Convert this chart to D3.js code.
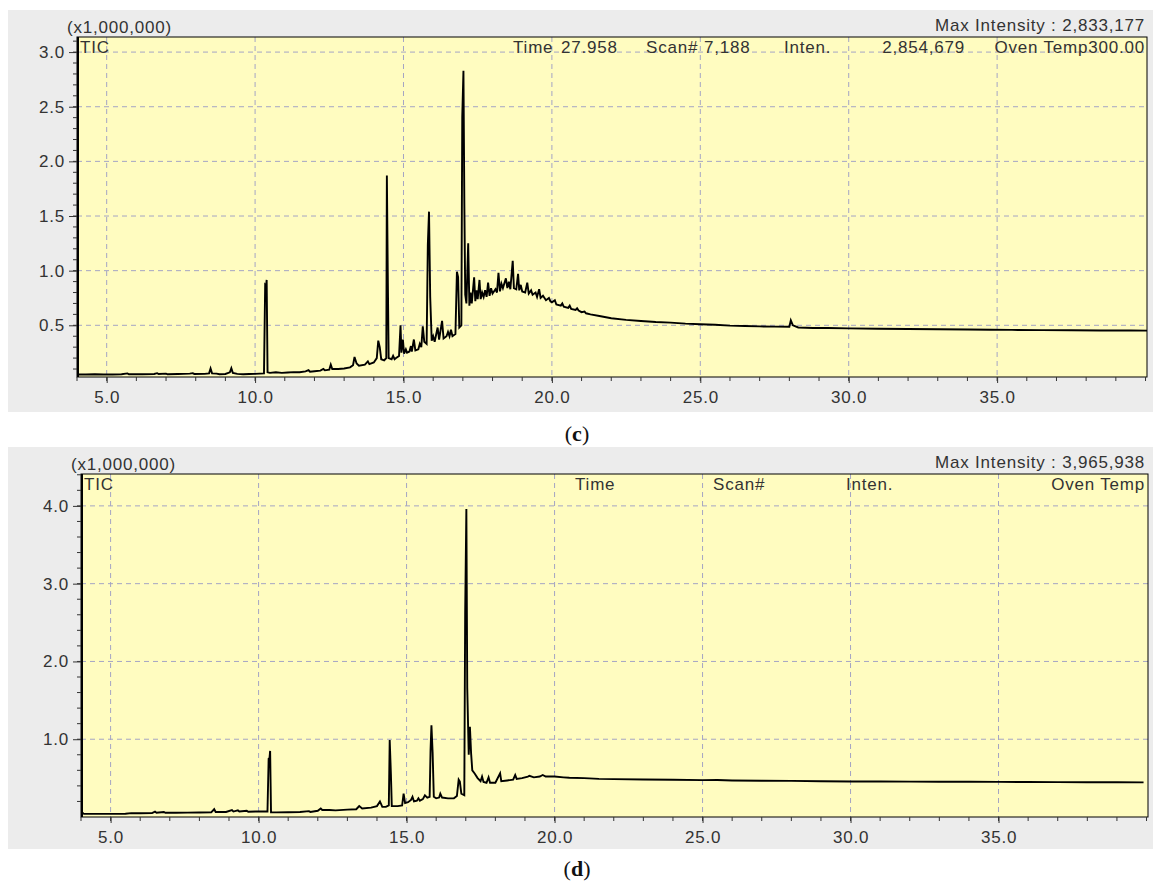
<!DOCTYPE html>
<html>
<head>
<meta charset="utf-8">
<script src="https://cdn.jsdelivr.net/npm/d3@7"></script>
<style>
  body { margin: 0; background: #ffffff; }
  svg text { font-family: 'Liberation Sans', Arial, sans-serif; fill: #333333; letter-spacing: 0.8px; }
  .caption text { font-family: 'Liberation Serif', 'Times New Roman', serif; fill: #111; letter-spacing: 0; }
</style>
</head>
<body>
<svg id="chart" width="1153" height="882"></svg>
<script>
// --- data (retention time in min, intensity x1,000,000) ---
const xTicks = [5.0, 10.0, 15.0, 20.0, 25.0, 30.0, 35.0];
const yTicksC = [0.5, 1.0, 1.5, 2.0, 2.5, 3.0];
const yTicksD = [1.0, 2.0, 3.0, 4.0];

const ticC = [
  [4.00,0.06],[4.05,0.05],[4.3,0.05],[4.6,0.052],[4.9,0.05],[5.2,0.05],[5.5,0.052],[5.7,0.06],[5.75,0.052],
  [6.2,0.052],[6.6,0.055],[6.7,0.062],[6.75,0.054],[7.0,0.058],[7.05,0.052],[7.4,0.055],[7.8,0.058],[7.9,0.062],
  [7.95,0.055],[8.3,0.056],[8.45,0.06],[8.5,0.105],[8.55,0.06],[8.7,0.058],[8.8,0.052],[9.0,0.055],[9.15,0.07],
  [9.2,0.108],[9.25,0.065],[9.4,0.056],[9.6,0.052],[9.8,0.055],[10.0,0.056],[10.3,0.06],[10.34,0.87],[10.37,0.86],
  [10.39,0.915],[10.42,0.07],[10.5,0.065],[10.7,0.07],[10.9,0.065],[11.1,0.068],[11.3,0.072],[11.5,0.07],[11.7,0.078],
  [11.8,0.09],[11.85,0.075],[12.0,0.08],[12.2,0.085],[12.3,0.1],[12.35,0.088],[12.5,0.095],[12.55,0.14],[12.6,0.1],
  [12.8,0.1],[13.0,0.105],[13.2,0.115],[13.3,0.135],[13.35,0.21],[13.42,0.15],[13.5,0.13],[13.7,0.14],[13.8,0.17],
  [13.85,0.145],[14.0,0.16],[14.1,0.2],[14.15,0.36],[14.2,0.3],[14.25,0.19],[14.35,0.18],[14.42,0.2],[14.44,1.87],
  [14.47,0.98],[14.5,0.2],[14.6,0.19],[14.65,0.22],[14.7,0.19],[14.75,0.2],[14.85,0.22],[14.9,0.5],[14.93,0.25],
  [14.98,0.37],[15.02,0.24],[15.08,0.28],[15.12,0.25],[15.2,0.26],[15.25,0.31],[15.28,0.26],[15.35,0.37],[15.4,0.27],
  [15.5,0.28],[15.55,0.33],[15.6,0.3],[15.65,0.49],[15.7,0.35],[15.78,0.33],[15.82,1.24],[15.86,1.54],[15.9,0.76],
  [15.95,0.36],[16.0,0.4],[16.05,0.35],[16.15,0.48],[16.2,0.37],[16.3,0.54],[16.35,0.38],[16.45,0.4],[16.5,0.44],
  [16.55,0.4],[16.6,0.46],[16.65,0.4],[16.75,0.42],[16.8,0.99],[16.84,0.94],[16.88,0.48],[16.95,0.5],[16.98,2.41],
  [17.02,2.83],[17.05,1.62],[17.08,0.78],[17.12,0.7],[17.18,1.25],[17.22,0.68],[17.26,0.8],[17.3,0.7],[17.38,0.94],
  [17.42,0.72],[17.46,0.82],[17.5,0.74],[17.56,0.915],[17.6,0.74],[17.65,0.8],[17.7,0.76],[17.75,0.82],[17.8,0.76],
  [17.85,0.89],[17.9,0.77],[17.95,0.84],[18.0,0.79],[18.1,0.83],[18.15,0.8],[18.2,0.98],[18.25,0.81],[18.3,0.88],
  [18.35,0.84],[18.45,0.93],[18.5,0.84],[18.55,0.9],[18.6,0.83],[18.68,1.09],[18.72,0.84],[18.8,0.83],[18.86,0.97],
  [18.9,0.82],[18.95,0.87],[19.0,0.81],[19.1,0.8],[19.17,0.89],[19.22,0.79],[19.3,0.82],[19.35,0.78],[19.45,0.8],
  [19.5,0.76],[19.57,0.83],[19.62,0.75],[19.7,0.77],[19.8,0.73],[19.9,0.75],[19.95,0.72],[20.0,0.71],[20.1,0.73],
  [20.15,0.69],[20.3,0.68],[20.35,0.7],[20.4,0.67],[20.55,0.66],[20.6,0.68],[20.65,0.65],[20.8,0.64],[20.85,0.655],
  [20.9,0.635],[21.0,0.62],[21.1,0.625],[21.15,0.61],[21.3,0.6],[21.6,0.585],[22.0,0.565],[22.5,0.55],[23.0,0.54],
  [23.5,0.53],[24.0,0.525],[24.5,0.515],[25.0,0.51],[25.5,0.505],[26.0,0.497],[26.5,0.493],[27.0,0.49],[27.5,0.488],
  [28.0,0.487],[28.05,0.545],[28.12,0.5],[28.3,0.48],[28.8,0.476],[29.3,0.475],[30.0,0.472],[31.0,0.468],[32.0,0.466],
  [33.0,0.464],[34.0,0.462],[34.8,0.46],[35.5,0.458],[36.5,0.456],[37.5,0.455],[38.5,0.453],[39.5,0.452],[40.1,0.451]
];

const ticD = [
  [4.0,0.12],[4.03,0.06],[4.1,0.04],[4.5,0.04],[5.0,0.04],[5.5,0.042],[5.7,0.05],[6.0,0.048],[6.4,0.05],[6.5,0.07],
  [6.55,0.055],[6.8,0.065],[6.85,0.055],[7.2,0.055],[7.6,0.056],[8.0,0.058],[8.4,0.06],[8.5,0.1],[8.55,0.065],
  [8.9,0.065],[9.1,0.09],[9.15,0.07],[9.3,0.085],[9.35,0.07],[9.6,0.08],[9.65,0.068],[9.9,0.07],[10.3,0.07],
  [10.34,0.75],[10.37,0.76],[10.39,0.85],[10.42,0.06],[10.6,0.06],[11.0,0.062],[11.4,0.065],[11.7,0.075],[11.75,0.065],
  [12.0,0.08],[12.1,0.11],[12.15,0.09],[12.4,0.09],[12.6,0.085],[13.0,0.095],[13.3,0.1],[13.4,0.14],[13.5,0.11],
  [13.8,0.12],[14.0,0.14],[14.1,0.2],[14.18,0.13],[14.3,0.13],[14.4,0.15],[14.43,0.99],[14.47,0.56],[14.5,0.14],
  [14.7,0.14],[14.85,0.15],[14.9,0.3],[14.95,0.18],[15.05,0.19],[15.15,0.22],[15.2,0.26],[15.25,0.2],[15.35,0.21],
  [15.4,0.24],[15.45,0.21],[15.55,0.23],[15.62,0.28],[15.7,0.25],[15.78,0.26],[15.81,0.86],[15.84,1.18],[15.88,0.83],
  [15.92,0.26],[16.0,0.24],[16.1,0.25],[16.14,0.3],[16.2,0.25],[16.4,0.24],[16.6,0.24],[16.7,0.27],[16.76,0.48],
  [16.8,0.455],[16.85,0.3],[16.95,0.28],[16.98,2.63],[17.02,3.96],[17.05,1.66],[17.1,0.8],[17.14,1.16],[17.18,0.82],
  [17.22,0.6],[17.3,0.56],[17.4,0.5],[17.5,0.46],[17.55,0.52],[17.6,0.45],[17.7,0.44],[17.77,0.51],[17.82,0.44],
  [18.0,0.44],[18.16,0.56],[18.2,0.46],[18.4,0.47],[18.6,0.48],[18.67,0.54],[18.72,0.49],[18.9,0.5],[19.1,0.52],
  [19.15,0.53],[19.3,0.51],[19.5,0.52],[19.6,0.54],[19.7,0.52],[20.0,0.52],[20.3,0.51],[20.5,0.505],[21.0,0.5],
  [21.5,0.49],[22.0,0.487],[23.0,0.482],[24.0,0.478],[25.0,0.474],[25.5,0.475],[26.0,0.47],[27.0,0.467],[28.0,0.464],
  [29.0,0.46],[30.0,0.457],[31.0,0.456],[32.0,0.455],[33.0,0.454],[34.0,0.453],[35.0,0.452],[36.0,0.45],[37.0,0.449],
  [38.0,0.447],[39.0,0.446],[39.9,0.445]
];

const headerC = ["Time", "27.958", "Scan#", "7,188", "Inten.", "2,854,679", "Oven Temp300.00"];
const headerD = ["Time", "Scan#", "Inten.", "Oven Temp"];

const svg = d3.select("#chart");

// 1 panel = gray frame + yellow plot + axes + TIC trace
function drawPanel(p) {
  const g = svg.append("g");

  g.append("rect")
    .attr("x", 8).attr("y", p.panelTop)
    .attr("width", 1145).attr("height", p.panelBottom - p.panelTop)
    .attr("fill", "#ececec");

  const x = d3.scaleLinear().domain([4.0, 40.05]).range([p.left, p.right]);
  const y = d3.scaleLinear().domain(p.yDomain).range([p.bottom, p.top]);

  g.append("rect")
    .attr("x", p.left).attr("y", p.top)
    .attr("width", p.right - p.left).attr("height", p.bottom - p.top)
    .attr("fill", "#fffcc0");

  // グリッド
  g.selectAll(".vgrid").data(xTicks).enter().append("line")
    .attr("x1", d => x(d)).attr("x2", d => x(d))
    .attr("y1", p.top).attr("y2", p.bottom)
    .attr("stroke", "#a4a4c4").attr("stroke-dasharray", "5,4");
  g.selectAll(".hgrid").data(p.yTicks).enter().append("line")
    .attr("x1", p.left).attr("x2", p.right)
    .attr("y1", d => y(d)).attr("y2", d => y(d))
    .attr("stroke", "#a4a4c4").attr("stroke-dasharray", "5,4");

  // trace
  const clipId = "clip-" + p.name;
  g.append("clipPath").attr("id", clipId).append("rect")
    .attr("x", p.left).attr("y", p.top)
    .attr("width", p.right - p.left).attr("height", p.bottom - p.top);

  const line = d3.line().x(d => x(d[0])).y(d => y(d[1]));
  g.append("path")
    .datum(p.data)
    .attr("clip-path", `url(#${clipId})`)
    .attr("fill", "none")
    .attr("stroke", "#000")
    .attr("stroke-width", 1.9)
    .attr("stroke-linejoin", "miter")
    .attr("d", line);

  // frame
  g.append("rect")
    .attr("x", p.left).attr("y", p.top)
    .attr("width", p.right - p.left).attr("height", p.bottom - p.top)
    .attr("fill", "none").attr("stroke", "#000").attr("stroke-width", 1);
  g.append("line")
    .attr("x1", p.left + 1).attr("x2", p.left + 1)
    .attr("y1", p.top).attr("y2", p.bottom)
    .attr("stroke", "#000").attr("stroke-width", 2);

  // X軸
  const xAxis = g.append("g")
    .attr("transform", `translate(0,${p.bottom})`)
    .call(d3.axisBottom(x).tickValues(xTicks).tickFormat(d3.format(".1f")).tickSize(6).tickPadding(8));
  xAxis.select(".domain").remove();
  xAxis.attr("font-size", 17).attr("font-family", null);
  xAxis.selectAll("line").attr("stroke", "#333");

  g.selectAll(".xminor").data(d3.range(4, 41, 1)).enter().append("line")
    .attr("x1", d => x(d)).attr("x2", d => x(d))
    .attr("y1", p.bottom).attr("y2", p.bottom + 4)
    .attr("stroke", "#333");

  // Y軸
  const yAxis = g.append("g")
    .attr("transform", `translate(${p.left},0)`)
    .call(d3.axisLeft(y).tickValues(p.yTicks).tickFormat(d3.format(".1f")).tickSize(8).tickPadding(4));
  yAxis.select(".domain").remove();
  yAxis.attr("font-size", 17).attr("font-family", null);
  yAxis.selectAll("line").attr("stroke", "#333");

  g.selectAll(".yminor").data(p.yMinor).enter().append("line")
    .attr("x1", p.left - 4).attr("x2", p.left)
    .attr("y1", d => y(d)).attr("y2", d => y(d))
    .attr("stroke", "#333");

  // labels
  g.append("text").attr("x", p.left - 10).attr("y", p.top - 4)
    .attr("font-size", 17).text("(x1,000,000)");
  g.append("text").attr("x", 1145).attr("y", p.top - 6)
    .attr("font-size", 17).attr("text-anchor", "end").text(p.maxLabel);
  g.append("text").attr("x", p.left + 3).attr("y", p.top + 16)
    .attr("font-size", 17).text("TIC");

  p.header.forEach((t, i) => {
    const pos = p.headerPos[i];
    g.append("text").attr("x", pos[0]).attr("y", p.top + 16)
      .attr("font-size", 17).attr("text-anchor", pos[1]).text(t);
  });
}

function drawCaption(name, cy) {
  const cap = svg.append("g").attr("class", "caption");
  const ct = cap.append("text").attr("x", 577).attr("y", cy)
    .attr("font-size", 22).attr("text-anchor", "middle");
  ct.append("tspan").text("(");
  ct.append("tspan").attr("font-weight", "bold").text(name);
  ct.append("tspan").text(")");
}

drawPanel({
  name: "c", data: ticC,
  panelTop: 10, panelBottom: 412,
  left: 77, right: 1147, top: 37, bottom: 377,
  yDomain: [0.027, 3.138], yTicks: yTicksC,
  yMinor: d3.range(0.1, 3.15, 0.1),
  maxLabel: "Max Intensity : 2,833,177",
  header: headerC,
  headerPos: [[513,"start"],[561,"start"],[646,"start"],[704,"start"],[784,"start"],[965,"end"],[1145,"end"]]
});

drawPanel({
  name: "d", data: ticD,
  panelTop: 447, panelBottom: 849,
  left: 81, right: 1148, top: 474, bottom: 817,
  yDomain: [0, 4.41], yTicks: yTicksD,
  yMinor: d3.range(0.2, 4.41, 0.2),
  maxLabel: "Max Intensity : 3,965,938",
  header: headerD,
  headerPos: [[575,"start"],[713,"start"],[846,"start"],[1145,"end"]]
});

drawCaption("c", 441);
drawCaption("d", 876);
</script>
</body>
</html>
